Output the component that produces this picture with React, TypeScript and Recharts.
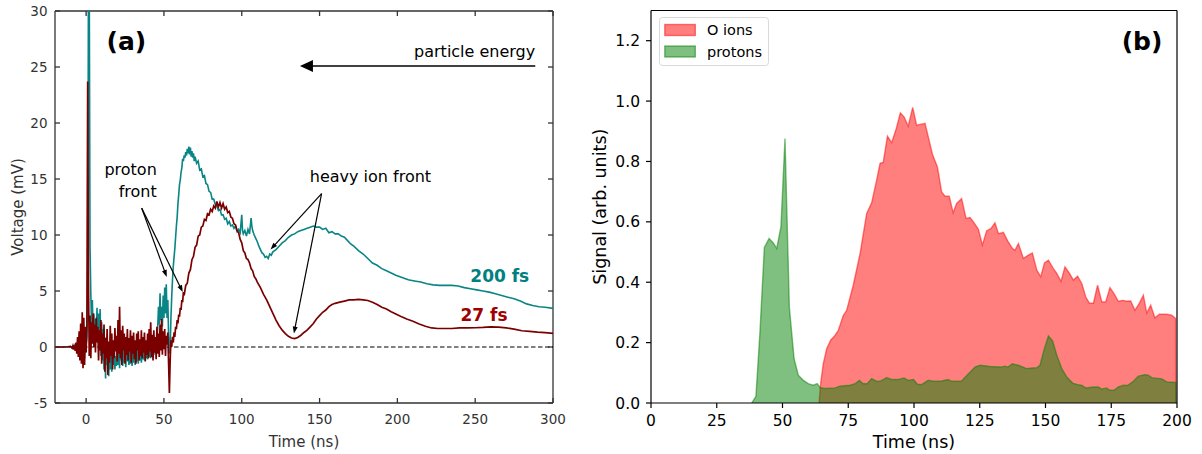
import React from 'react';
import {
  ComposedChart, Line, XAxis, YAxis, ReferenceLine, ReferenceDot, Label, Area, Legend,
} from 'recharts';

const FONT = '"DejaVu Sans", Verdana, sans-serif';

// ---------- Panel (a): detector voltage traces ----------
const timeTicksA = [0, 50, 100, 150, 200, 250, 300];
const voltTicks = [-5, 0, 5, 10, 15, 20, 25, 30];
const domainTA: [number, number] = [-20, 300];
const domainVA: [number, number] = [-5, 30];

const trace200fs: [number, number][] = [
  [-20, 0], [-15, 0], [-12, 0], [-10, 0.02], [-9, -0.05], [-8.5, 0.05], [-8, -0.1], [-7.5, 0.1], [-7, -0.2], [-6.5, 0.2],
  [-6, -0.3], [-5.5, 0.4], [-5, -0.5], [-4.5, 0.7], [-4, -0.6], [-3.5, 1.2], [-3, -0.9], [-2.5, 2.0], [-2, -1.2], [-1.5, 1.6],
  [-1, -1.0], [-0.5, 1.2], [0, 0.2], [0.5, 0.8], [1, 4], [1.5, 33], [2, 33], [2.5, 9], [3, 4.8], [3.5, 2.0],
  [4, 4.2], [4.5, 1.0], [5, 3.0], [5.5, 0.6], [6, 2.5], [6.5, 0.8], [7, 3.5], [7.5, 0.4], [8, 3.0], [8.5, 0.2],
  [9, 3.4], [9.5, -0.8], [10, 2.2], [10.5, -1.2], [11, 1.6], [11.5, -2.0], [12, 0.8], [12.5, -2.8], [13, 0.9], [13.5, -1.6],
  [14, 0.4], [14.5, -2.6], [15, -0.4], [15.5, -2.0], [16, 0.6], [16.5, -2.2], [17, -0.6], [17.5, -1.6], [18, 0.4], [18.5, -2.0],
  [19, -0.8], [19.5, -1.7], [20, 0.0], [20.5, -1.6], [21, -0.3], [21.5, -1.9], [22, 0.2], [22.5, -1.2], [23, -0.5], [23.5, -1.7],
  [24, 0.3], [24.5, -1.4], [25, -0.6], [25.5, -1.8], [26, 0.1], [26.5, -1.3], [27, -0.4], [27.5, -1.6], [28, -0.2], [28.5, -1.5],
  [29, 0.2], [29.5, -1.7], [30, -0.5], [30.5, -1.4], [31, 0.0], [31.5, -1.6], [32, -0.3], [32.5, -1.3], [33, 0.1], [33.5, -1.5],
  [34, -0.6], [34.5, -1.2], [35, 0.2], [35.5, -1.4], [36, -0.3], [36.5, -1.1], [37, 0.3], [37.5, -1.2], [38, -0.4], [38.5, -1.0],
  [39, 0.4], [39.5, -1.1], [40, -0.2], [40.5, -0.9], [41, 0.5], [41.5, -1.0], [42, 0.0], [42.5, -0.8], [43, 0.6], [43.5, -0.7],
  [44, 0.3], [44.5, -0.5], [45, 0.8], [45.5, 0.2], [46, 1.8], [46.5, 3.6], [47, 2.0], [47.5, 4.8], [48, 2.4], [48.5, 3.6],
  [49, 1.8], [49.5, 4.6], [50, 2.6], [50.5, 5.3], [51, 3.0], [51.5, 5.6], [52, 2.6], [52.5, 4.2], [53, 1.0], [53.5, -0.6],
  [54, 0.0], [54.5, 2.6], [55, 4.5], [55.5, 6.0], [56, 7.2], [56.5, 8.0], [57, 8.8], [57.5, 9.8], [58, 10.8], [58.5, 11.6],
  [59, 12.8], [59.5, 13.6], [60, 14.5], [60.5, 14.9], [61, 15.6], [61.5, 16.0], [62, 16.8], [62.5, 16.6], [63, 17.1], [63.5, 16.9],
  [64, 17.4], [64.5, 17.1], [65, 17.7], [65.5, 17.3], [66, 17.9], [66.5, 17.2], [67, 17.8], [67.5, 17.0], [68, 17.5], [68.5, 16.9],
  [69, 17.3], [69.5, 16.6], [70, 17.0], [71, 16.4], [72, 16.6], [73, 15.8], [74, 15.9], [75, 15.2], [76, 15.3], [77, 14.6],
  [78, 14.5], [79, 13.9], [80, 13.8], [81, 13.2], [82, 13.2], [83, 12.7], [84, 12.6], [85, 12.2], [86, 12.3], [87, 11.8],
  [88, 11.8], [89, 11.4], [90, 11.5], [91, 11.0], [92, 11.2], [93, 10.8], [94, 10.9], [95, 10.6], [96, 10.8], [97, 10.3],
  [98, 10.5], [99, 10.2], [100, 11.8], [100.5, 10.4], [101, 10.1], [102, 10.4], [103, 9.9], [104, 10.5], [105, 10.1], [106, 11.5],
  [106.5, 10.8], [107, 10.4], [108, 10.0], [109, 9.7], [110, 9.4], [111, 9.0], [112, 8.7], [113, 8.4], [114, 8.3], [115, 8.0],
  [116, 8.1], [117, 7.9], [118, 8.3], [119, 8.2], [120, 8.5], [122, 8.7], [124, 9.0], [126, 9.3], [128, 9.5], [130, 9.8],
  [132, 10.0], [134, 10.1], [136, 10.3], [138, 10.4], [140, 10.5], [142, 10.6], [144, 10.7], [146, 10.8], [148, 10.7], [150, 10.7],
  [152, 10.5], [154, 10.6], [156, 10.2], [158, 10.3], [160, 10.1], [162, 10.1], [164, 9.9], [166, 9.8], [168, 9.5], [170, 9.2],
  [172, 9.0], [175, 8.6], [178, 8.3], [181, 7.9], [184, 7.5], [187, 7.3], [190, 7.0], [193, 6.8], [196, 6.6], [199, 6.4],
  [203, 6.2], [207, 6.0], [211, 5.9], [215, 5.8], [219, 5.65], [223, 5.55], [227, 5.5], [231, 5.5], [235, 5.5], [239, 5.45],
  [243, 5.3], [247, 5.2], [251, 5.1], [255, 5.0], [259, 4.9], [263, 4.75], [267, 4.6], [271, 4.45], [275, 4.3], [279, 4.1],
  [283, 3.85], [287, 3.7], [291, 3.6], [295, 3.55], [300, 3.45],
];

const trace27fs: [number, number][] = [
  [-20, 0], [-15, 0], [-12, 0.02], [-10, 0.05], [-9, -0.1], [-8.5, 0.1], [-8, -0.2], [-7.5, 0.15], [-7, -0.35], [-6.5, 0.4],
  [-6, -0.6], [-5.5, 0.9], [-5, -0.9], [-4.5, 1.4], [-4, -1.2], [-3.5, 2.1], [-3, -1.5], [-2.5, 3.1], [-2, -1.9], [-1.5, 2.6],
  [-1, -1.6], [-0.5, 1.8], [0, -0.5], [0.5, 2.0], [1, 23.7], [1.5, 6.0], [2, -0.8], [2.5, 2.8], [3, -1.0], [3.5, 2.2],
  [4, 0.3], [4.5, 3.0], [5, 0.0], [5.5, 2.0], [6, -0.5], [6.5, 2.6], [7, 0.4], [7.5, 1.8], [8, -1.2], [8.5, 1.5],
  [9, -0.3], [9.5, 2.4], [10, -1.5], [10.5, 1.2], [11, -0.6], [11.5, 2.0], [12, -2.2], [12.5, 0.8], [13, -1.0], [13.5, 1.6],
  [14, -2.5], [14.5, 0.5], [15, -1.4], [15.5, 1.9], [16, -0.8], [16.5, 1.2], [17, -2.0], [17.5, 0.6], [18, -1.0], [18.5, 1.7],
  [19, -0.4], [19.5, 1.0], [20, -1.3], [20.5, 2.4], [21, -0.6], [21.5, 3.6], [22, -1.0], [22.5, 1.5], [23, -1.6], [23.5, 1.9],
  [24, -0.3], [24.5, 1.2], [25, -1.5], [25.5, 0.9], [26, -0.7], [26.5, 1.6], [27, -1.2], [27.5, 0.8], [28, -0.4], [28.5, 1.5],
  [29, -1.4], [29.5, 1.0], [30, -0.6], [30.5, 1.3], [31, -1.1], [31.5, 0.6], [32, -1.5], [32.5, 1.2], [33, -0.3], [33.5, 1.4],
  [34, -1.2], [34.5, 0.7], [35, -0.8], [35.5, 1.5], [36, -1.0], [36.5, 0.9], [37, -0.5], [37.5, 1.3], [38, -1.3], [38.5, 0.6],
  [39, -0.7], [39.5, 1.2], [40, -1.0], [40.5, 1.6], [41, -0.4], [41.5, 2.2], [42, -0.9], [42.5, 1.1], [43, -1.2], [43.5, 1.5],
  [44, -0.5], [44.5, 0.9], [45, -1.1], [45.5, 1.8], [46, -0.6], [46.5, 1.2], [47, -0.9], [47.5, 2.0], [48, -0.3], [48.5, 2.5],
  [49, -0.7], [49.5, 1.4], [50, -0.2], [50.5, 1.6], [51, -0.8], [51.5, 1.0], [52, 0.2], [52.5, 1.3], [53, -1.5], [53.5, -4.1],
  [54, -1.2], [54.5, 0.6], [55, 0.0], [55.5, 0.9], [56, 0.4], [56.5, 1.3], [57, 0.9], [57.5, 1.8], [58, 1.6], [58.5, 2.4],
  [59, 2.1], [59.5, 2.9], [60, 2.7], [60.5, 3.5], [61, 3.3], [61.5, 4.2], [62, 4.0], [62.5, 4.9], [63, 4.6], [64, 5.5],
  [65, 5.7], [66, 6.6], [67, 6.9], [68, 7.8], [69, 8.1], [70, 8.9], [71, 9.1], [72, 9.9], [73, 10.0], [74, 10.7],
  [75, 10.8], [76, 11.4], [77, 11.3], [78, 11.9], [79, 11.8], [80, 12.3], [81, 12.1], [82, 12.6], [83, 12.4], [84, 13.0],
  [85, 12.5], [86, 12.9], [87, 12.4], [88, 12.8], [89, 12.3], [90, 12.5], [91, 12.0], [92, 12.1], [93, 11.6], [94, 11.5],
  [95, 11.0], [96, 10.9], [97, 10.4], [98, 10.2], [99, 9.6], [100, 9.3], [101, 8.6], [102, 8.4], [103, 7.9], [104, 7.8],
  [105, 7.5], [106, 7.0], [107, 6.8], [108, 6.3], [109, 6.1], [110, 5.8], [112, 5.3], [114, 4.7], [116, 4.2], [118, 3.6],
  [120, 3.0], [122, 2.4], [124, 1.9], [126, 1.5], [128, 1.2], [130, 0.95], [132, 0.8], [134, 0.75], [136, 0.85], [138, 1.05],
  [140, 1.3], [142, 1.5], [144, 1.8], [146, 2.1], [148, 2.5], [150, 2.8], [152, 3.1], [154, 3.3], [156, 3.6], [158, 3.8],
  [160, 3.9], [163, 4.0], [166, 4.1], [169, 4.2], [172, 4.2], [175, 4.25], [178, 4.2], [181, 4.15], [184, 4.0], [187, 3.8],
  [190, 3.55], [193, 3.4], [196, 3.15], [199, 2.95], [202, 2.75], [206, 2.5], [210, 2.3], [214, 2.05], [218, 1.85], [222, 1.7],
  [226, 1.65], [230, 1.65], [235, 1.65], [240, 1.7], [245, 1.7], [250, 1.72], [255, 1.75], [260, 1.8], [265, 1.78], [270, 1.7],
  [275, 1.6], [280, 1.45], [285, 1.4], [290, 1.33], [295, 1.28], [300, 1.22],
];

// ---------- Panel (b): ion signals ----------
const timeTicksB = [0, 25, 50, 75, 100, 125, 150, 175, 200];
const signalTicks = [0, 0.2, 0.4, 0.6, 0.8, 1.0, 1.2];
const domainTB: [number, number] = [0, 200];
const domainSB: [number, number] = [0, 1.3];

const oIons: [number, number][] = [
  [63.9, 0], [64.5, 0.064], [65.5, 0.13], [66.8, 0.18], [68.3, 0.208], [69.8, 0.222], [71.2, 0.24], [73.1, 0.29], [74.4, 0.307], [76.9, 0.39],
  [79.5, 0.495], [82, 0.628], [83.9, 0.663], [85.8, 0.738], [87.1, 0.794], [88.3, 0.797], [89.9, 0.884], [91.5, 0.862], [93.3, 0.91], [94.8, 0.961],
  [96.2, 0.948], [97.8, 0.917], [99.5, 0.979], [101, 0.92], [104.2, 0.926], [105.4, 0.882], [107.1, 0.821], [108.9, 0.782], [110.5, 0.699], [111.8, 0.685],
  [113.4, 0.685], [114.9, 0.63], [116.2, 0.661], [118.1, 0.677], [119.8, 0.611], [121.3, 0.614], [122.8, 0.597], [124.5, 0.575], [126, 0.523], [127.6, 0.57],
  [129.3, 0.578], [130.8, 0.597], [132.1, 0.561], [134, 0.565], [135.6, 0.537], [137.4, 0.512], [138.4, 0.506], [139.7, 0.528], [141.6, 0.479], [143.5, 0.49],
  [145, 0.497], [146.7, 0.44], [148.2, 0.418], [149.6, 0.464], [151.1, 0.473], [153, 0.445], [154.3, 0.429], [155.9, 0.403], [157.4, 0.451], [159, 0.431],
  [160.6, 0.407], [162.2, 0.42], [163.8, 0.396], [165.3, 0.351], [166.7, 0.331], [168.2, 0.33], [169.8, 0.39], [171.4, 0.335], [172.9, 0.335], [174.5, 0.382],
  [176, 0.363], [177.7, 0.337], [179.4, 0.34], [180.9, 0.337], [182.4, 0.338], [184, 0.307], [185.6, 0.329], [187.2, 0.357], [188.5, 0.298], [190, 0.324],
  [191.6, 0.282], [193.3, 0.294], [196.1, 0.294], [198, 0.291], [199.5, 0.28], [199.6, 0],
];

const protons: [number, number][] = [
  [38.3, 0], [39.9, 0.022], [41.4, 0.23], [43.1, 0.515], [44.9, 0.545], [46.5, 0.53], [47.8, 0.512], [49.4, 0.583], [50.95, 0.876], [52.6, 0.318],
  [54.4, 0.147], [56, 0.092], [57.9, 0.075], [59.8, 0.064], [61.7, 0.059], [63.2, 0.064], [64.3, 0.051], [66.2, 0.048], [70, 0.05], [71.9, 0.056],
  [75.7, 0.059], [77.6, 0.064], [79.2, 0.075], [80.7, 0.064], [82.2, 0.064], [83.9, 0.081], [85.8, 0.072], [87.1, 0.072], [89.6, 0.084], [91.5, 0.078],
  [94, 0.078], [96.2, 0.083], [97.8, 0.075], [99.8, 0.078], [101.3, 0.062], [102.9, 0.061], [105.4, 0.075], [107.3, 0.072], [110.5, 0.073], [113, 0.078],
  [114.3, 0.072], [118.1, 0.073], [120.7, 0.097], [123.2, 0.119], [125.1, 0.125], [129, 0.121], [132.8, 0.119], [134.7, 0.122], [135.7, 0.119], [137.4, 0.13],
  [139.7, 0.125], [142.8, 0.114], [144.8, 0.116], [146.7, 0.117], [147.9, 0.125], [149.4, 0.175], [151.1, 0.222], [152.7, 0.206], [154.3, 0.158], [156.2, 0.114],
  [158.1, 0.086], [160.3, 0.066], [162.2, 0.061], [163.7, 0.059], [165.3, 0.05], [168.2, 0.053], [170.1, 0.053], [171.3, 0.046], [173.2, 0.05], [174.5, 0.042],
  [176, 0.042], [177.7, 0.053], [179.6, 0.059], [181.1, 0.058], [183.4, 0.072], [185.3, 0.089], [187.8, 0.094], [189.1, 0.092], [190.4, 0.084], [194.2, 0.08],
  [196.1, 0.07], [199.5, 0.068], [199.6, 0],
];

const legendItems = [
  { name: 'O ions', color: 'red' },
  { name: 'protons', color: 'green' },
];

function mergeSeries(a: [number, number][], b: [number, number][], ka: string, kb: string) {
  const m = new Map<number, any>();
  for (const [t, v] of a) { const r = m.get(t) || { t }; r[ka] = v; m.set(t, r); }
  for (const [t, v] of b) { const r = m.get(t) || { t }; r[kb] = v; m.set(t, r); }
  return Array.from(m.values()).sort((x, y) => x.t - y.t);
}

const dataA = mergeSeries(trace200fs, trace27fs, 'fs200', 'fs27');
const dataB = mergeSeries(oIons, protons, 'o', 'p');

const arrowShape = (headLen: number, headW: number, sw: number) => (p: any) => {
  const { x1, y1, x2, y2 } = p;
  const dx = x2 - x1, dy = y2 - y1;
  const L = Math.hypot(dx, dy) || 1;
  const ux = dx / L, uy = dy / L;
  const bx = x2 - ux * headLen, by = y2 - uy * headLen;
  const px = (-uy * headW) / 2, py = (ux * headW) / 2;
  return (
    <g>
      <line x1={x1} y1={y1} x2={bx + ux * 1} y2={by + uy * 1} stroke="#000" strokeWidth={sw} />
      <polygon points={`${x2},${y2} ${bx + px},${by + py} ${bx - px},${by - py}`} fill="#000" />
    </g>
  );
};

// draws a short tick of fixed pixel length from a point on the frame, pointing into the plot
const tickShape = (dir: 'up' | 'down' | 'left' | 'right', len: number, color: string, sw: number) => (p: any) => {
  const x = p.x1, y = p.y1;
  const ex = dir === 'left' ? x - len : dir === 'right' ? x + len : x;
  const ey = dir === 'up' ? y - len : dir === 'down' ? y + len : y;
  return <line x1={x} y1={y} x2={ex} y2={ey} stroke={color} strokeWidth={sw} />;
};

const textShape = (text: string, opts: any) => (p: any) => (
  <text
    x={p.cx}
    y={p.cy}
    dy="0.35em"
    textAnchor={opts.anchor || 'middle'}
    fontFamily={FONT}
    fontSize={opts.size || 16}
    fontWeight={opts.bold ? 'bold' : 'normal'}
    fill={opts.color || '#000'}
  >
    {text}
  </text>
);

const axA = '#333';

function PanelA() {
  const tickStyle = { fill: axA, fontSize: 13.5, fontFamily: FONT };
  const frame = { stroke: axA, strokeWidth: 1.3 };
  const [t0, t1] = domainTA;
  const [v0, v1] = domainVA;
  return (
    <ComposedChart width={590} height={454} data={dataA} margin={{ top: 11, right: 37, bottom: 0, left: 0 }}>
      <XAxis
        dataKey="t" type="number" domain={domainTA} ticks={timeTicksA} interval={0} allowDataOverflow
        height={51} tickSize={0} tickMargin={11.6} tick={tickStyle} axisLine={frame} tickLine={false}
      >
        <Label content={() => (
          <text x={304} y={447} textAnchor="middle" fontFamily={FONT} fontSize={15} fill={axA}>Time (ns)</text>
        )} />
      </XAxis>
      <YAxis
        type="number" domain={domainVA} ticks={voltTicks} interval={0} allowDataOverflow
        width={55} tickSize={0} tickMargin={7.5} tick={tickStyle} axisLine={frame} tickLine={false}
      >
        <Label content={() => (
          <text x={18.3} y={207} transform="rotate(-90, 18.3, 207)" textAnchor="middle" dominantBaseline="central"
            fontFamily={FONT} fontSize={15} fill={axA}>Voltage (mV)</text>
        )} />
      </YAxis>

      {/* frame top & right */}
      <ReferenceLine y={v1} stroke={axA} strokeWidth={1.3} ifOverflow="visible" />
      <ReferenceLine x={t1} stroke={axA} strokeWidth={1.3} ifOverflow="visible" />
      {/* inward ticks on all four sides */}
      {timeTicksA.map((t) => (
        <ReferenceLine key={`b${t}`} segment={[{ x: t, y: v0 }, { x: t, y: v1 }]} ifOverflow="visible" shape={tickShape('up', 5, axA, 1.3)} />
      ))}
      {timeTicksA.map((t) => (
        <ReferenceLine key={`t${t}`} segment={[{ x: t, y: v1 }, { x: t, y: v0 }]} ifOverflow="visible" shape={tickShape('down', 5, axA, 1.3)} />
      ))}
      {voltTicks.map((v) => (
        <ReferenceLine key={`l${v}`} segment={[{ x: t0, y: v }, { x: t1, y: v }]} ifOverflow="visible" shape={tickShape('right', 5, axA, 1.3)} />
      ))}
      {voltTicks.map((v) => (
        <ReferenceLine key={`r${v}`} segment={[{ x: t1, y: v }, { x: t0, y: v }]} ifOverflow="visible" shape={tickShape('left', 5, axA, 1.3)} />
      ))}

      <ReferenceLine y={0} stroke="#000" strokeWidth={1.2} strokeDasharray="4.5 2.5" />
      <Line dataKey="fs200" type="linear" stroke="#0a8585" strokeWidth={1.6} dot={false} connectNulls isAnimationActive={false} />
      <Line dataKey="fs27" type="linear" stroke="#7a0000" strokeWidth={1.7} dot={false} connectNulls isAnimationActive={false} />

      <ReferenceDot x={25.9} y={27.3} r={0} ifOverflow="visible" shape={textShape('(a)', { size: 25, bold: true })} />
      <ReferenceDot x={288.6} y={26.4} r={0} ifOverflow="visible" shape={textShape('particle energy', { anchor: 'end' })} />
      <ReferenceLine segment={[{ x: 288.6, y: 25.1 }, { x: 137.4, y: 25.1 }]} ifOverflow="visible" shape={arrowShape(13, 12, 1.5)} />

      <ReferenceDot x={45.4} y={15.9} r={0} ifOverflow="visible" shape={textShape('proton', { anchor: 'end' })} />
      <ReferenceDot x={45.4} y={13.9} r={0} ifOverflow="visible" shape={textShape('front', { anchor: 'end' })} />
      <ReferenceLine segment={[{ x: 35.7, y: 12.4 }, { x: 51.8, y: 6.25 }]} ifOverflow="visible" shape={arrowShape(7, 5, 1.2)} />
      <ReferenceLine segment={[{ x: 35.7, y: 12.4 }, { x: 62.1, y: 4.9 }]} ifOverflow="visible" shape={arrowShape(7, 5, 1.2)} />

      <ReferenceDot x={182.7} y={15.2} r={0} ifOverflow="visible" shape={textShape('heavy ion front', {})} />
      <ReferenceLine segment={[{ x: 151.3, y: 13.7 }, { x: 118.5, y: 8.7 }]} ifOverflow="visible" shape={arrowShape(7, 5, 1.2)} />
      <ReferenceLine segment={[{ x: 151.3, y: 13.7 }, { x: 133.5, y: 1.2 }]} ifOverflow="visible" shape={arrowShape(7, 5, 1.2)} />

      <ReferenceDot x={265.8} y={6.34} r={0} ifOverflow="visible" shape={textShape('200 fs', { size: 17, bold: true, color: '#008080' })} />
      <ReferenceDot x={255.7} y={2.86} r={0} ifOverflow="visible" shape={textShape('27 fs', { size: 17, bold: true, color: '#a00000' })} />
    </ComposedChart>
  );
}

const legendContent = () => (
  <svg width={110} height={49} style={{ display: 'block' }}>
    <rect x={0.5} y={0.5} width={109} height={48} rx={3} ry={3} fill="rgba(255,255,255,0.8)" stroke="#d9d9d9" />
    {legendItems.map((it, i) => (
      <g key={it.name}>
        <rect x={5.8} y={7.5 + i * 21.5} width={30.5} height={11} fill={it.color} fillOpacity={0.5}
          stroke={it.color} strokeOpacity={0.5} strokeWidth={1.4} />
        <text x={48} y={13 + i * 21.5} dominantBaseline="central" fontFamily={FONT} fontSize={14.5} fill="#000">{it.name}</text>
      </g>
    ))}
  </svg>
);

function PanelB() {
  const tickStyle = { fill: '#000', fontSize: 15.5, fontFamily: FONT };
  const frame = { stroke: '#000', strokeWidth: 1.2 };
  return (
    <ComposedChart width={612} height={454} data={dataB} margin={{ top: 10.5, right: 25, bottom: 0, left: 0 }}>
      <XAxis
        dataKey="t" type="number" domain={domainTB} ticks={timeTicksB} interval={0} allowDataOverflow
        height={51} tickSize={5} tickMargin={6.6} tick={tickStyle} axisLine={frame} tickLine={frame}
      >
        <Label content={() => (
          <text x={324} y={448} textAnchor="middle" fontFamily={FONT} fontSize={17.5} fill="#000">Time (ns)</text>
        )} />
      </XAxis>
      <YAxis
        type="number" domain={domainSB} ticks={signalTicks} interval={0} allowDataOverflow
        width={61} tickSize={5} tickMargin={6} tick={tickStyle} tickFormatter={(v: number) => v.toFixed(1)}
        axisLine={frame} tickLine={frame}
      >
        <Label content={() => (
          <text x={10} y={206.7} transform="rotate(-90, 10, 206.7)" textAnchor="middle" dominantBaseline="central"
            fontFamily={FONT} fontSize={17.5} fill="#000">Signal (arb. units)</text>
        )} />
      </YAxis>
      <Legend layout="vertical" align="center" verticalAlign="middle" content={legendContent}
        wrapperStyle={{ position: 'absolute', left: 69, top: 16.5, width: 110, height: 49 }} />
      <Area dataKey="o" name="O ions" type="linear" baseValue={0} fill="red" fillOpacity={0.5}
        stroke="red" strokeOpacity={0.5} strokeWidth={1.4} dot={false} activeDot={false} connectNulls isAnimationActive={false} />
      <Area dataKey="p" name="protons" type="linear" baseValue={0} fill="green" fillOpacity={0.5}
        stroke="green" strokeOpacity={0.5} strokeWidth={1.4} dot={false} activeDot={false} connectNulls isAnimationActive={false} />
      <ReferenceLine y={domainSB[1]} stroke="#000" strokeWidth={1.2} ifOverflow="visible" />
      <ReferenceLine x={domainTB[1]} stroke="#000" strokeWidth={1.2} ifOverflow="visible" />
      <ReferenceDot x={186.7} y={1.197} r={0} ifOverflow="visible" shape={textShape('(b)', { size: 25, bold: true })} />
    </ComposedChart>
  );
}

export default function App() {
  return (
    <div style={{ position: 'absolute', left: 0, top: 0, width: 1202, height: 454, display: 'flex', background: '#fff' }}>
      <div style={{ width: 590, height: 454 }}><PanelA /></div>
      <div style={{ width: 612, height: 454 }}><PanelB /></div>
    </div>
  );
}
